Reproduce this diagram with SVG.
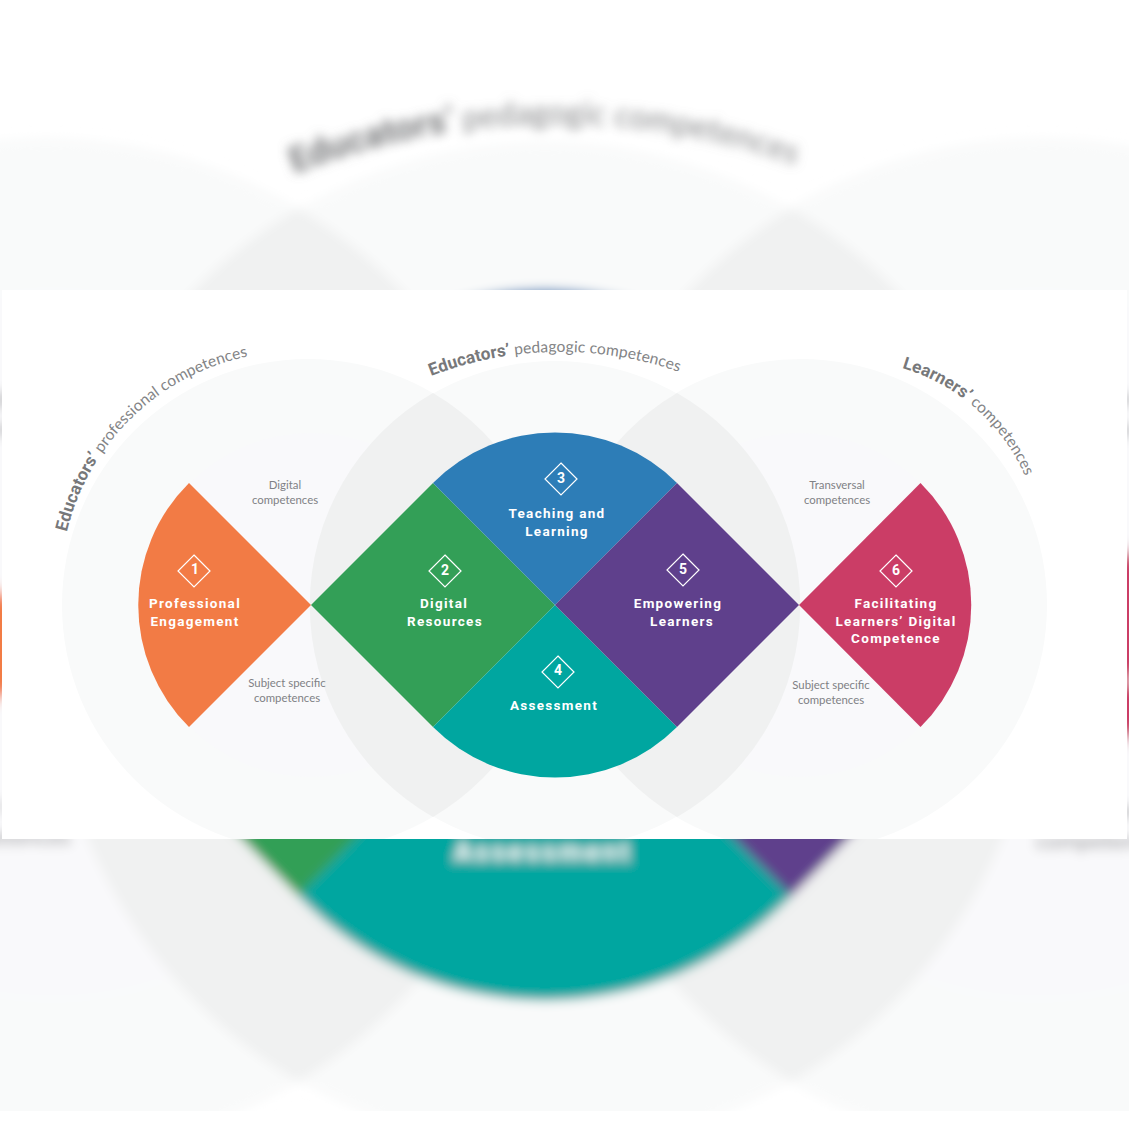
<svg xmlns="http://www.w3.org/2000/svg" width="1129" height="1129" viewBox="0 0 1129 1129">
<defs>
<style>
.big{fill:#f9fafa}
.inner{fill:#f9f9fb}
.lens{fill:#f0f1f1}
.lbl{font-family:"Roboto","Liberation Sans",sans-serif;font-weight:700;font-size:13.5px;letter-spacing:1.3px;fill:#fff;text-anchor:middle}
.num{font-family:"Roboto","Liberation Sans",sans-serif;font-weight:700;font-size:14px;fill:#fff;text-anchor:middle}
.dia{fill:none;stroke:#fff;stroke-width:1.2}
.small{font-family:"Lato","Liberation Sans",sans-serif;font-weight:400;font-size:11.4px;fill:#808185;text-anchor:middle}
.arc{font-family:"Lato","Liberation Sans",sans-serif;font-size:15.6px;letter-spacing:.1px;fill:#838486;font-weight:400}
.arc .b{font-weight:700;font-size:17.2px;fill:#77787a;font-family:"Roboto","Liberation Sans",sans-serif}
</style>
<filter id="blur" x="-5%" y="-5%" width="110%" height="110%"><feGaussianBlur stdDeviation="5.500"/></filter>
<clipPath id="bgclip"><rect x="0" y="0" width="1129" height="1111"/></clipPath>
<clipPath id="cardclip"><rect x="2" y="290" width="1125" height="549"/></clipPath>
<path id="arcL" d="M66.8 532 A235 235 0 0 1 250 356"/>
<path id="arcM" d="M431 376 A360 360 0 0 1 690 376"/>
<path id="arcR" d="M902 368 A194 194 0 0 1 1040 530"/>
</defs>
<rect width="1129" height="1129" fill="#fff"/>
<g id="blurred-background" clip-path="url(#bgclip)">
<g filter="url(#blur)"><use href="#diagram" transform="translate(-576.1 -601.3) scale(2.02 2.06)"/></g>
</g>
<rect id="card" x="2" y="290" width="1125" height="549" fill="#fff"/>
<g clip-path="url(#cardclip)">
<g id="diagram">
<g id="backdrop">
<circle class="big" cx="308" cy="605" r="246"/>
<circle class="big" cx="555" cy="605" r="244"/>
<circle class="big" cx="801" cy="605" r="246"/>
<circle class="inner" cx="311" cy="605" r="172"/>
<circle class="inner" cx="799" cy="605" r="172"/>
<path class="lens" d="M433 393 A246 246 0 0 1 433 817 A244 244 0 0 1 433 393Z"/>
<path class="lens" d="M677 393 A244 244 0 0 1 677 817 A246 246 0 0 1 677 393Z"/>
</g>
<g id="arc-labels">
<text class="arc"><textPath href="#arcL" startOffset="0"><tspan class="b">Educators’</tspan> professional  competences</textPath></text>
<text class="arc"><textPath href="#arcM" startOffset="0"><tspan class="b">Educators’</tspan> pedagogic  competences</textPath></text>
<text class="arc"><textPath href="#arcR" startOffset="0"><tspan class="b">Learners’</tspan> competences</textPath></text>
</g>
<g id="node1"><path fill="#f27b45" d="M311 605 L189 483 A172 172 0 0 0 189 727Z"/><path class="dia" d="M194 555 L210 571 L194 587 L178 571Z"/><text class="num" x="195" y="574">1</text><text class="lbl" x="195" y="608">Professional</text><text class="lbl" x="195" y="626">Engagement</text></g>
<g id="node2"><path fill="#339f57" d="M311 605 L433 483 L555 605 L433 727Z"/><path class="dia" d="M445 555 L461 571 L445 587 L429 571Z"/><text class="num" x="445" y="575">2</text><text class="lbl" x="444" y="608">Digital</text><text class="lbl" x="445" y="626">Resources</text></g>
<g id="node3"><path fill="#2d7db7" d="M555 605 L433 483 A172.500 172.500 0 0 1 677 483Z"/><path class="dia" d="M561 463 L577 479 L561 495 L545 479Z"/><text class="num" x="561" y="483">3</text><text class="lbl" x="557" y="518">Teaching and</text><text class="lbl" x="557" y="536">Learning</text></g>
<g id="node4"><path fill="#00a6a0" d="M555 605 L677 727 A172.500 172.500 0 0 1 433 727Z"/><path class="dia" d="M558 656 L574 672 L558 688 L542 672Z"/><text class="num" x="558" y="675">4</text><text class="lbl" x="554" y="710">Assessment</text></g>
<g id="node5"><path fill="#5f408c" d="M555 605 L677 483 L799 605 L677 727Z"/><path class="dia" d="M683 554 L699 570 L683 586 L667 570Z"/><text class="num" x="683" y="574">5</text><text class="lbl" x="678" y="608">Empowering</text><text class="lbl" x="682" y="626">Learners</text></g>
<g id="node6"><path fill="#cb3d66" d="M799 605 L920.500 483 A172 172 0 0 1 920.500 727Z"/><path class="dia" d="M896 555 L912 571 L896 587 L880 571Z"/><text class="num" x="896" y="575">6</text><text class="lbl" x="896" y="608">Facilitating</text><text class="lbl" x="896" y="625.500">Learners’ Digital</text><text class="lbl" x="896" y="643">Competence</text></g>
<g id="side-labels">
<text class="small" x="285" y="489">Digital</text><text class="small" x="285" y="504">competences</text>
<text class="small" x="287" y="687">Subject specific</text><text class="small" x="287" y="702">competences</text>
<text class="small" x="837" y="489">Transversal</text><text class="small" x="837" y="504">competences</text>
<text class="small" x="831" y="689">Subject specific</text><text class="small" x="831" y="704">competences</text>
</g>
</g>
</g>
</svg>
